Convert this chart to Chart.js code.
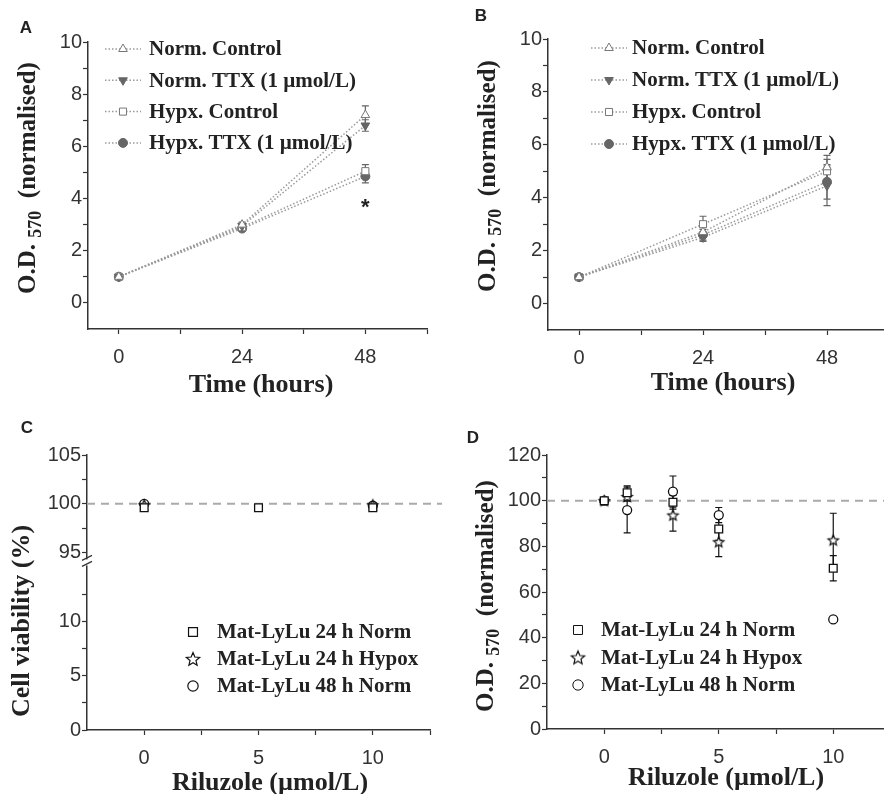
<!DOCTYPE html>
<html>
<head>
<meta charset="utf-8">
<script src="https://cdn.jsdelivr.net/npm/chart.js@4.4.1/dist/chart.umd.min.js"></script>
<style>
  html, body { margin: 0; padding: 0; background: #fff; overflow: hidden; width: 884px; height: 794px; }
  .panel { position: absolute; }
</style>
</head>
<body>
<canvas id="panelA" class="panel" width="442" height="400" style="left:0;top:0"></canvas>
<canvas id="panelB" class="panel" width="460" height="400" style="left:442px;top:0"></canvas>
<canvas id="panelC" class="panel" width="442" height="394" style="left:0;top:400px"></canvas>
<canvas id="panelD" class="panel" width="460" height="394" style="left:442px;top:400px"></canvas>
<script>
// ---- data: panels A and B (time course) ----
const hours = [0, 24, 48];
const hourTicks = [0, 12, 24, 36, 48, 60];
const hourLabels = [0, 24, 48];
const odTicks = [0, 1, 2, 3, 4, 5, 6, 7, 8, 9, 10];
const odLabels = [0, 2, 4, 6, 8, 10];

const aNormControl = [1, 3.0, 7.2];
const aNormControlErr = [0.05, 0.1, 0.35];
const aNormTTX = [1, 2.95, 6.8];
const aNormTTXErr = [0.05, 0.1, 0.22];
const aHypxControl = [1, 2.9, 5.05];
const aHypxControlErr = [0.05, 0.1, 0.25];
const aHypxTTX = [1, 2.85, 4.85];
const aHypxTTXErr = [0.05, 0.1, 0.25];
const aStar = { x: 48, y: 3.8 };

const bNormControl = [1, 2.7, 5.15];
const bNormControlErr = [0.05, 0.2, 0.45];
const bNormTTX = [1, 2.5, 4.45];
const bNormTTXErr = [0.05, 0.15, 0.75];
const bHypxControl = [1, 3.0, 5.0];
const bHypxControlErr = [0.05, 0.3, 0.45];
const bHypxTTX = [1, 2.6, 4.6];
const bHypxTTXErr = [0.05, 0.2, 0.65];

const seriesNames = ['Norm. Control', 'Norm. TTX (1 \u00b5mol/L)', 'Hypx. Control', 'Hypx. TTX (1 \u00b5mol/L)'];

// ---- data: panel C (viability) ----
const rilC = [0, 5, 10];
const cNorm24 = [99.6, 99.6, 99.6];
const cHypox24 = [99.9, null, 99.9];
const cNorm48 = [100, null, 99.8];
const cErr = [0.15, 0.15, 0.15];
const rilTicks = [0, 2.5, 5, 7.5, 10, 12.5];
const rilLabels = [0, 5, 10];
const viabTopTicks = [95, 97.5, 100, 102.5, 105];
const viabTopLabels = [95, 100, 105];
const viabLowTicks = [0, 2.5, 5, 7.5, 10, 12.5];
const viabLowLabels = [0, 5, 10];

// ---- data: panel D (O.D. vs riluzole) ----
const rilD = [0, 1, 3, 5, 10];
const dNorm24 = [100, 103.5, 99.3, 87.6, 70.4];
const dNorm24Err = [0.5, 3, 3, 5, 5.5];
const dHypox24 = [100, 101.8, 93.7, 82, 82.8];
const dHypox24Err = [0.5, 2, 7, 6.5, 11.7];
const dNorm48 = [100, 95.9, 104, 93.7, 48];
const dNorm48Err = [0.5, 10, 6.8, 3.3, 0];
const dTicks = [0, 10, 20, 30, 40, 50, 60, 70, 80, 90, 100, 110, 120];
const dLabels = [0, 20, 40, 60, 80, 100, 120];

const rilNames = ['Mat-LyLu 24 h Norm', 'Mat-LyLu 24 h Hypox', 'Mat-LyLu 48 h Norm'];
const refLevel = 100;

const SANS = '"Liberation Sans", Arial, sans-serif';
const SERIF = '"Liberation Serif", "Times New Roman", serif';

function makeStar(r) {
  const c = document.createElement('canvas');
  const s = Math.ceil(r * 2 + 4);
  c.width = c.height = s;
  const g = c.getContext('2d');
  g.translate(s / 2, s / 2 + 0.6);
  g.beginPath();
  for (let k = 0; k < 10; k++) {
    const rad = k % 2 ? r * 0.45 : r;
    const a = -Math.PI / 2 + k * Math.PI / 5;
    g.lineTo(rad * Math.cos(a), rad * Math.sin(a));
  }
  g.closePath();
  g.fillStyle = '#fff';
  g.fill();
  g.strokeStyle = '#111';
  g.lineWidth = 1.2;
  g.stroke();
  return c;
}
const starPoint = makeStar(5.5);
const starLegend = makeStar(7);

function pts(xs, ys) { return xs.map((x, i) => ({ x: x, y: ys[i] })); }

function fixedTicks(list) {
  return s => { s.ticks = list.map(v => ({ value: v })); };
}

function axis(tickList, labelList, extra) {
  return Object.assign({
    type: 'linear',
    border: { color: '#333', width: 1.5 },
    grid: { drawOnChartArea: false, tickLength: 5, tickColor: '#333', tickWidth: 1.2 },
    ticks: {
      color: '#333', font: { family: SANS, size: 20 }, autoSkip: false, maxRotation: 0, padding: 1,
      callback: v => labelList.includes(v) ? String(v) : ''
    },
    afterBuildTicks: fixedTicks(tickList)
  }, extra);
}

// --- custom drawing: error bars, reference line, titles, legends ---
const extras = {
  id: 'extras',
  beforeDatasetsDraw(chart, args, o) {
    const ctx = chart.ctx;
    const area = chart.chartArea;
    if (o.refScale) {
      const y = chart.scales[o.refScale].getPixelForValue(refLevel);
      ctx.save();
      ctx.strokeStyle = '#aaa';
      ctx.lineWidth = 2;
      ctx.setLineDash([8, 6]);
      ctx.beginPath();
      ctx.moveTo(area.left, y);
      ctx.lineTo(chart.width, y);
      ctx.stroke();
      ctx.restore();
    }
    chart.data.datasets.forEach((ds, i) => {
      if (!ds.errors) return;
      const meta = chart.getDatasetMeta(i);
      const ys = chart.scales[meta.yAxisID];
      ctx.save();
      ctx.strokeStyle = o.errColor;
      ctx.lineWidth = 1.2;
      meta.data.forEach((el, j) => {
        const v = ds.data[j].y, e = ds.errors[j];
        if (v == null || !e) return;
        const t = ys.getPixelForValue(v + e), b = ys.getPixelForValue(v - e);
        ctx.beginPath();
        ctx.moveTo(el.x, t); ctx.lineTo(el.x, b);
        ctx.moveTo(el.x - 3.5, t); ctx.lineTo(el.x + 3.5, t);
        ctx.moveTo(el.x - 3.5, b); ctx.lineTo(el.x + 3.5, b);
        ctx.stroke();
      });
      ctx.restore();
    });
  },
  afterDraw(chart, args, o) {
    const ctx = chart.ctx;
    ctx.save();
    ctx.fillStyle = '#222';
    // panel letter
    ctx.font = 'bold 17px ' + SANS;
    ctx.textAlign = 'center';
    ctx.textBaseline = 'middle';
    ctx.fillText(o.letter, o.letterAt[0], o.letterAt[1]);
    // x title
    ctx.font = 'bold 26px ' + SERIF;
    ctx.fillText(o.xTitle, o.xTitleAt[0], o.xTitleAt[1]);
    // y title (rotated, with optional subscript)
    ctx.save();
    ctx.translate(o.yTitleAt[0], o.yTitleAt[1]);
    ctx.rotate(-Math.PI / 2);
    ctx.textAlign = 'left';
    let total = 0;
    o.yTitle.forEach(p => { ctx.font = p.font; p.w = ctx.measureText(p.t).width; total += p.w; });
    let x = -total / 2;
    o.yTitle.forEach(p => { ctx.font = p.font; ctx.fillText(p.t, x, p.dy || 0); x += p.w; });
    ctx.restore();
    // significance star
    if (o.star) {
      ctx.font = 'bold 22px ' + SANS;
      ctx.fillText('*', chart.scales.x.getPixelForValue(o.star.x), chart.scales.y.getPixelForValue(o.star.y) + 4);
    }
    // axis break marks
    if (o.breakScale) {
      const bx = chart.chartArea.left, by = chart.scales[o.breakScale].bottom;
      ctx.fillStyle = '#fff';
      ctx.fillRect(bx - 3, by - 3, 6, 6);
      ctx.strokeStyle = '#333';
      ctx.lineWidth = 1.2;
      ctx.beginPath();
      ctx.moveTo(bx - 5, by - 2); ctx.lineTo(bx + 5, by - 7);
      ctx.moveTo(bx - 5, by + 4); ctx.lineTo(bx + 5, by - 1);
      ctx.stroke();
    }
    // legend
    const L = o.legend;
    ctx.font = L.font;
    ctx.textAlign = 'left';
    chart.data.datasets.forEach((ds, i) => {
      const y = L.y0 + i * L.step;
      if (L.line) {
        ctx.save();
        ctx.strokeStyle = ds.borderColor;
        ctx.lineWidth = ds.borderWidth;
        ctx.setLineDash(ds.borderDash);
        ctx.beginPath();
        ctx.moveTo(L.mx - L.line, y); ctx.lineTo(L.mx + L.line, y);
        ctx.stroke();
        ctx.restore();
      }
      ctx.save();
      ctx.fillStyle = ds.pointBackgroundColor;
      ctx.strokeStyle = ds.pointBorderColor;
      Chart.helpers.drawPoint(ctx, {
        pointStyle: ds.legendStyle || ds.pointStyle, rotation: ds.pointRotation || 0,
        radius: ds.pointRadius * (L.scale || 1), borderWidth: ds.pointBorderWidth
      }, L.mx, y);
      ctx.restore();
      ctx.fillStyle = '#222';
      ctx.fillText(ds.label, L.tx, y + 1);
    });
    ctx.restore();
  }
};
Chart.register(extras);

const odTitle = [
  { t: 'O.D. ', font: 'bold 25px ' + SERIF },
  { t: '570', font: 'bold 18px ' + SERIF, dy: 7 },
  { t: '  (normalised)', font: 'bold 25px ' + SERIF }
];

function timeSet(label, ys, errs, style) {
  return Object.assign({
    label: label, data: pts(hours, ys), errors: errs,
    borderColor: '#9a9a9a', borderWidth: 1.5, borderDash: [1.5, 2],
    pointBorderWidth: 1, pointRadius: 5, tension: 0
  }, style);
}

const openTri = { pointStyle: 'triangle', pointBackgroundColor: '#fff', pointBorderColor: '#777' };
const fillTri = { pointStyle: 'triangle', pointRotation: 180, pointBackgroundColor: '#666', pointBorderColor: '#666' };
const openSq = { pointStyle: 'rect', pointRadius: 5, pointBackgroundColor: '#fff', pointBorderColor: '#777' };
const fillCirc = { pointStyle: 'circle', pointRadius: 4.5, pointBackgroundColor: '#666', pointBorderColor: '#666' };

function timePanel(id, sets, pad, yW, xH, ex) {
  new Chart(document.getElementById(id), {
    type: 'line',
    data: { datasets: sets },
    options: {
      responsive: false, animation: false, devicePixelRatio: 1,
      layout: { padding: pad },
      plugins: { legend: { display: false }, tooltip: { enabled: false }, extras: ex },
      scales: {
        x: axis(hourTicks, hourLabels, { min: -6, max: 60, afterFit: s => { s.height = xH; } }),
        y: axis(odTicks, odLabels, { min: -1, max: 10, afterFit: s => { s.width = yW; } })
      }
    }
  });
  const c = Chart.getChart(id);
  c.options.scales.x.ticks.padding = 11;
  c.update();
}

timePanel('panelA', [
  timeSet(seriesNames[0], aNormControl, aNormControlErr, openTri),
  timeSet(seriesNames[1], aNormTTX, aNormTTXErr, fillTri),
  timeSet(seriesNames[2], aHypxControl, aHypxControlErr, openSq),
  timeSet(seriesNames[3], aHypxTTX, aHypxTTXErr, fillCirc)
], { left: 0, top: 42, right: 15, bottom: 0 }, 88, 71, {
  letter: 'A', letterAt: [26, 28], xTitle: 'Time (hours)', xTitleAt: [261, 385],
  yTitle: odTitle, yTitleAt: [29, 178], errColor: '#666', star: aStar,
  legend: { font: 'bold 21px ' + SERIF, y0: 49, step: 31.3, mx: 123, line: 18, tx: 149 }
});

timePanel('panelB', [
  timeSet(seriesNames[0], bNormControl, bNormControlErr, openTri),
  timeSet(seriesNames[1], bNormTTX, bNormTTXErr, fillTri),
  timeSet(seriesNames[2], bHypxControl, bHypxControlErr, openSq),
  timeSet(seriesNames[3], bHypxTTX, bHypxTTXErr, fillCirc)
], { left: 0, top: 39, right: 13, bottom: 0 }, 106, 70, {
  letter: 'B', letterAt: [39, 16], xTitle: 'Time (hours)', xTitleAt: [281, 383],
  yTitle: odTitle, yTitleAt: [47, 176], errColor: '#666',
  legend: { font: 'bold 21px ' + SERIF, y0: 48, step: 32, mx: 167, line: 18, tx: 190 }
});

// ---- panels C and D: riluzole ----
function rilSet(label, xs, ys, errs, style, yId) {
  return Object.assign({
    label: label, data: pts(xs, ys), errors: errs, showLine: false, yAxisID: yId,
    borderColor: '#111', borderWidth: 0, borderDash: [],
    pointBorderColor: '#111', pointBackgroundColor: '#fff', pointBorderWidth: 1.3
  }, style);
}
const sqStyle = { pointStyle: 'rect', pointRadius: 5.5 };
const starStyle = { pointStyle: starPoint, legendStyle: starLegend, pointRadius: 5 };
const circStyle = { pointStyle: 'circle', pointRadius: 4.5 };

new Chart(document.getElementById('panelC'), {
  type: 'line',
  data: {
    datasets: [
      rilSet(rilNames[0], rilC, cNorm24, cErr, sqStyle, 'yTop'),
      rilSet(rilNames[1], rilC, cHypox24, cErr, starStyle, 'yTop'),
      rilSet(rilNames[2], rilC, cNorm48, cErr, circStyle, 'yTop')
    ]
  },
  options: {
    responsive: false, animation: false, devicePixelRatio: 1,
    layout: { padding: { left: 0, top: 55, right: 12, bottom: 0 } },
    plugins: {
      legend: { display: false }, tooltip: { enabled: false },
      extras: {
        letter: 'C', letterAt: [27, 28], xTitle: 'Riluzole (\u00b5mol/L)', xTitleAt: [270, 383],
        yTitle: [{ t: 'Cell viability (%)', font: 'bold 26px ' + SERIF }], yTitleAt: [22, 221],
        errColor: '#111', refScale: 'yTop', breakScale: 'yTop',
        legend: { font: 'bold 21px ' + SERIF, y0: 232, step: 27, mx: 193, tx: 217, scale: 1.15 }
      }
    },
    scales: {
      x: axis(rilTicks, rilLabels, { min: -2.5, max: 12.5, afterFit: s => { s.height = 64; } }),
      yLow: axis(viabLowTicks, viabLowLabels, { position: 'left', stack: 'v', stackWeight: 167, min: 0, max: 15.5, afterFit: s => { s.width = 87; } }),
      yTop: axis(viabTopTicks, viabTopLabels, { position: 'left', stack: 'v', stackWeight: 107, min: 94, max: 105, afterFit: s => { s.width = 87; } })
    }
  }
});

new Chart(document.getElementById('panelD'), {
  type: 'line',
  data: {
    datasets: [
      rilSet(rilNames[0], rilD, dNorm24, dNorm24Err, sqStyle, 'y'),
      rilSet(rilNames[1], rilD, dHypox24, dHypox24Err, starStyle, 'y'),
      rilSet(rilNames[2], rilD, dNorm48, dNorm48Err, circStyle, 'y')
    ]
  },
  options: {
    responsive: false, animation: false, devicePixelRatio: 1,
    layout: { padding: { left: 0, top: 55, right: 11.5, bottom: 0 } },
    plugins: {
      legend: { display: false }, tooltip: { enabled: false },
      extras: {
        letter: 'D', letterAt: [31, 38], xTitle: 'Riluzole (\u00b5mol/L)', xTitleAt: [284, 378],
        yTitle: odTitle, yTitleAt: [45, 196], errColor: '#111', refScale: 'y',
        legend: { font: 'bold 21px ' + SERIF, y0: 230, step: 27.5, mx: 136, tx: 159, scale: 1.15 }
      }
    },
    scales: {
      x: axis(rilTicks, rilLabels, { min: -2.5, max: 12.5, afterFit: s => { s.height = 65; } }),
      y: axis(dTicks, dLabels, { min: 0, max: 120, afterFit: s => { s.width = 105; } })
    }
  }
});
['panelC', 'panelD'].forEach(id => {
  const c = Chart.getChart(id);
  c.options.scales.x.ticks.padding = 11;
  c.update();
});
</script>
</body>
</html>
